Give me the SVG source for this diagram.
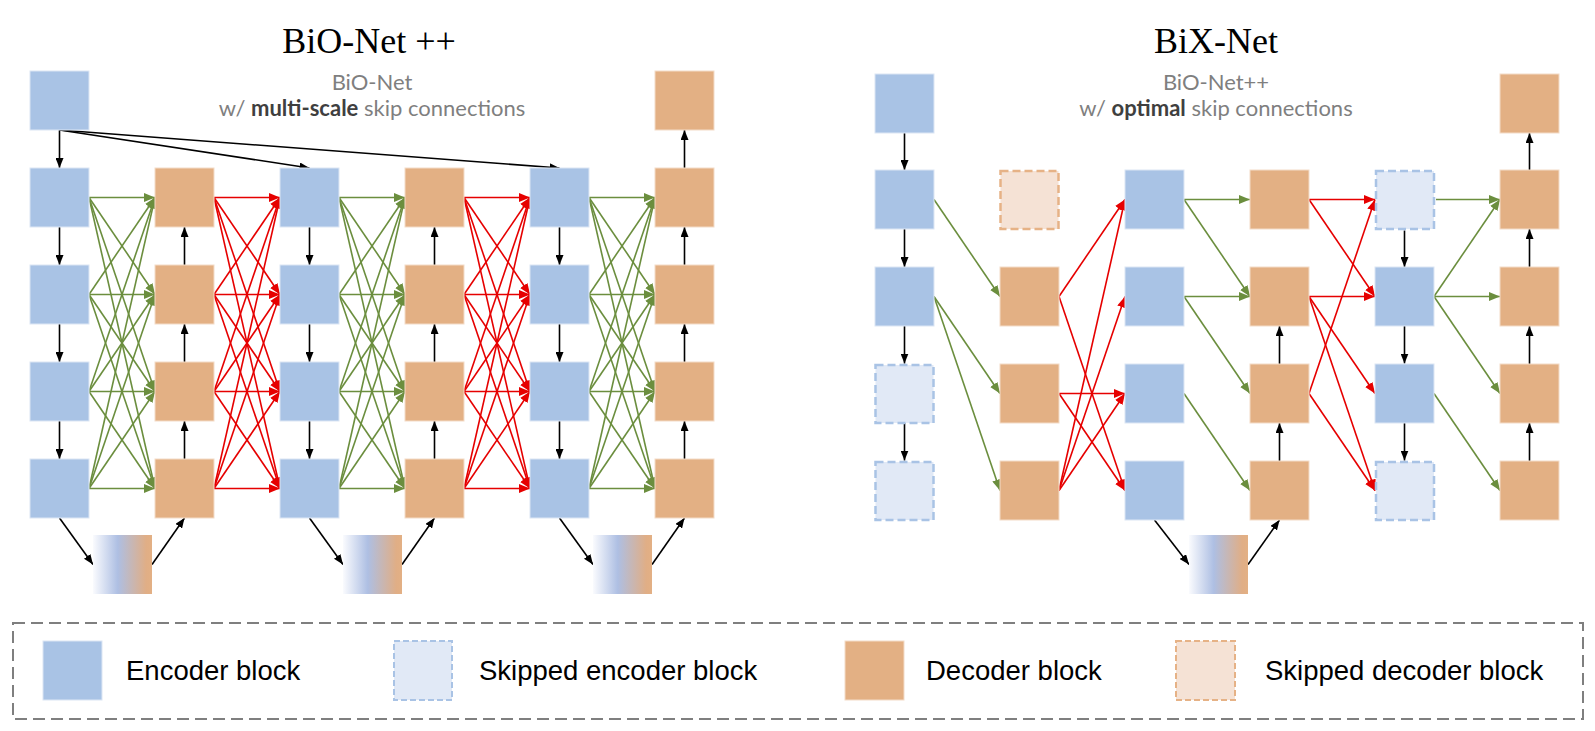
<svg xmlns="http://www.w3.org/2000/svg" width="1595" height="731" viewBox="0 0 1595 731">
<style>
.enc{fill:#A9C3E5;stroke:#DCE6F4;stroke-width:1}
.dec{fill:#E3B084;stroke:#F3DCC8;stroke-width:1}
.senc{fill:#E1E9F6;stroke:#A9C3E5;stroke-width:2.5;stroke-dasharray:8 4}
.sdec{fill:#F5E2D5;stroke:#E6B286;stroke-width:2.5;stroke-dasharray:8 4}
.grad{fill:url(#gr)}
.g line{stroke:#6B8E3E;stroke-width:1.6;marker-end:url(#ag)}
.r line{stroke:#E60000;stroke-width:1.6;marker-end:url(#ar)}
.k line{stroke:#000;stroke-width:1.6;marker-end:url(#ak)}
.title{font-family:"Liberation Serif",serif;font-size:36px;fill:#000;text-anchor:middle}
.sub{font-family:Lato,"Liberation Sans",sans-serif;font-size:22px;fill:#7F7F7F;text-anchor:middle}
.sub .b{font-weight:700;fill:#3F3F3F}
.leg{font-family:"Liberation Sans",sans-serif;font-size:27.5px;fill:#000}
</style>
<defs>
<marker id="ag" viewBox="0 0 10 8" refX="10" refY="4" markerWidth="11" markerHeight="9" markerUnits="userSpaceOnUse" orient="auto"><path d="M0,0 L10,4 L0,8 z" fill="#6B8E3E"/></marker>
<marker id="ar" viewBox="0 0 10 8" refX="10" refY="4" markerWidth="11" markerHeight="9" markerUnits="userSpaceOnUse" orient="auto"><path d="M0,0 L10,4 L0,8 z" fill="#E60000"/></marker>
<marker id="ak" viewBox="0 0 10 8" refX="10" refY="4" markerWidth="10" markerHeight="8" markerUnits="userSpaceOnUse" orient="auto"><path d="M0,0 L10,4 L0,8 z" fill="#000"/></marker>
<linearGradient id="gr" x1="0" y1="0" x2="1" y2="0">
<stop offset="0" stop-color="#FAFBFE"/>
<stop offset="0.42" stop-color="#AEBFE3"/>
<stop offset="0.9" stop-color="#E0AE86"/>
<stop offset="1" stop-color="#E3B084"/>
</linearGradient>
</defs>
<rect width="1595" height="731" fill="#fff"/>

<g id="titles">
<text class="title" x="369" y="53">BiO-Net ++</text>
<text class="sub" x="372" y="90">BiO-Net</text>
<text class="sub" x="372" y="116">w/ <tspan class="b">multi-scale</tspan> skip connections</text>
<text class="title" x="1216" y="53">BiX-Net</text>
<text class="sub" x="1216" y="90">BiO-Net++</text>
<text class="sub" x="1216" y="116">w/ <tspan class="b">optimal</tspan> skip connections</text>
</g>

<g id="connectors">
<g class="g">
<line x1="89" y1="197.5" x2="155" y2="197.5"/><line x1="89" y1="197.5" x2="155" y2="294.5"/><line x1="89" y1="197.5" x2="155" y2="391.5"/><line x1="89" y1="197.5" x2="155" y2="488.5"/>
<line x1="89" y1="294.5" x2="155" y2="197.5"/><line x1="89" y1="294.5" x2="155" y2="294.5"/><line x1="89" y1="294.5" x2="155" y2="391.5"/><line x1="89" y1="294.5" x2="155" y2="488.5"/>
<line x1="89" y1="391.5" x2="155" y2="197.5"/><line x1="89" y1="391.5" x2="155" y2="294.5"/><line x1="89" y1="391.5" x2="155" y2="391.5"/><line x1="89" y1="391.5" x2="155" y2="488.5"/>
<line x1="89" y1="488.5" x2="155" y2="197.5"/><line x1="89" y1="488.5" x2="155" y2="294.5"/><line x1="89" y1="488.5" x2="155" y2="391.5"/><line x1="89" y1="488.5" x2="155" y2="488.5"/>
<line x1="339" y1="197.5" x2="405" y2="197.5"/><line x1="339" y1="197.5" x2="405" y2="294.5"/><line x1="339" y1="197.5" x2="405" y2="391.5"/><line x1="339" y1="197.5" x2="405" y2="488.5"/>
<line x1="339" y1="294.5" x2="405" y2="197.5"/><line x1="339" y1="294.5" x2="405" y2="294.5"/><line x1="339" y1="294.5" x2="405" y2="391.5"/><line x1="339" y1="294.5" x2="405" y2="488.5"/>
<line x1="339" y1="391.5" x2="405" y2="197.5"/><line x1="339" y1="391.5" x2="405" y2="294.5"/><line x1="339" y1="391.5" x2="405" y2="391.5"/><line x1="339" y1="391.5" x2="405" y2="488.5"/>
<line x1="339" y1="488.5" x2="405" y2="197.5"/><line x1="339" y1="488.5" x2="405" y2="294.5"/><line x1="339" y1="488.5" x2="405" y2="391.5"/><line x1="339" y1="488.5" x2="405" y2="488.5"/>
<line x1="589" y1="197.5" x2="655" y2="197.5"/><line x1="589" y1="197.5" x2="655" y2="294.5"/><line x1="589" y1="197.5" x2="655" y2="391.5"/><line x1="589" y1="197.5" x2="655" y2="488.5"/>
<line x1="589" y1="294.5" x2="655" y2="197.5"/><line x1="589" y1="294.5" x2="655" y2="294.5"/><line x1="589" y1="294.5" x2="655" y2="391.5"/><line x1="589" y1="294.5" x2="655" y2="488.5"/>
<line x1="589" y1="391.5" x2="655" y2="197.5"/><line x1="589" y1="391.5" x2="655" y2="294.5"/><line x1="589" y1="391.5" x2="655" y2="391.5"/><line x1="589" y1="391.5" x2="655" y2="488.5"/>
<line x1="589" y1="488.5" x2="655" y2="197.5"/><line x1="589" y1="488.5" x2="655" y2="294.5"/><line x1="589" y1="488.5" x2="655" y2="391.5"/><line x1="589" y1="488.5" x2="655" y2="488.5"/>
<line x1="934" y1="199.5" x2="1000" y2="296.5"/>
<line x1="934" y1="296.5" x2="1000" y2="393.5"/>
<line x1="934" y1="296.5" x2="1000" y2="490.5"/>
<line x1="1184" y1="199.5" x2="1250" y2="199.5"/>
<line x1="1184" y1="199.5" x2="1250" y2="296.5"/>
<line x1="1184" y1="296.5" x2="1250" y2="296.5"/>
<line x1="1184" y1="296.5" x2="1250" y2="393.5"/>
<line x1="1184" y1="393.5" x2="1250" y2="490.5"/>
<line x1="1436" y1="199.5" x2="1500" y2="199.5"/>
<line x1="1434" y1="296.5" x2="1500" y2="199.5"/>
<line x1="1434" y1="296.5" x2="1500" y2="296.5"/>
<line x1="1434" y1="296.5" x2="1500" y2="393.5"/>
<line x1="1434" y1="393.5" x2="1500" y2="490.5"/>
</g>
<g class="r">
<line x1="214" y1="197.5" x2="280" y2="197.5"/><line x1="214" y1="197.5" x2="280" y2="294.5"/><line x1="214" y1="197.5" x2="280" y2="391.5"/><line x1="214" y1="197.5" x2="280" y2="488.5"/>
<line x1="214" y1="294.5" x2="280" y2="197.5"/><line x1="214" y1="294.5" x2="280" y2="294.5"/><line x1="214" y1="294.5" x2="280" y2="391.5"/><line x1="214" y1="294.5" x2="280" y2="488.5"/>
<line x1="214" y1="391.5" x2="280" y2="197.5"/><line x1="214" y1="391.5" x2="280" y2="294.5"/><line x1="214" y1="391.5" x2="280" y2="391.5"/><line x1="214" y1="391.5" x2="280" y2="488.5"/>
<line x1="214" y1="488.5" x2="280" y2="197.5"/><line x1="214" y1="488.5" x2="280" y2="294.5"/><line x1="214" y1="488.5" x2="280" y2="391.5"/><line x1="214" y1="488.5" x2="280" y2="488.5"/>
<line x1="464" y1="197.5" x2="530" y2="197.5"/><line x1="464" y1="197.5" x2="530" y2="294.5"/><line x1="464" y1="197.5" x2="530" y2="391.5"/><line x1="464" y1="197.5" x2="530" y2="488.5"/>
<line x1="464" y1="294.5" x2="530" y2="197.5"/><line x1="464" y1="294.5" x2="530" y2="294.5"/><line x1="464" y1="294.5" x2="530" y2="391.5"/><line x1="464" y1="294.5" x2="530" y2="488.5"/>
<line x1="464" y1="391.5" x2="530" y2="197.5"/><line x1="464" y1="391.5" x2="530" y2="294.5"/><line x1="464" y1="391.5" x2="530" y2="391.5"/><line x1="464" y1="391.5" x2="530" y2="488.5"/>
<line x1="464" y1="488.5" x2="530" y2="197.5"/><line x1="464" y1="488.5" x2="530" y2="294.5"/><line x1="464" y1="488.5" x2="530" y2="391.5"/><line x1="464" y1="488.5" x2="530" y2="488.5"/>
<line x1="1059" y1="296.5" x2="1125" y2="199.5"/>
<line x1="1059" y1="296.5" x2="1125" y2="490.5"/>
<line x1="1059" y1="393.5" x2="1125" y2="393.5"/>
<line x1="1059" y1="393.5" x2="1125" y2="490.5"/>
<line x1="1059" y1="490.5" x2="1125" y2="199.5"/>
<line x1="1059" y1="490.5" x2="1125" y2="296.5"/>
<line x1="1059" y1="490.5" x2="1125" y2="393.5"/>
<line x1="1309" y1="199.5" x2="1375" y2="199.5"/>
<line x1="1309" y1="199.5" x2="1375" y2="296.5"/>
<line x1="1309" y1="296.5" x2="1375" y2="296.5"/>
<line x1="1309" y1="296.5" x2="1375" y2="393.5"/>
<line x1="1309" y1="296.5" x2="1375" y2="490.5"/>
<line x1="1309" y1="393.5" x2="1375" y2="199.5"/>
<line x1="1309" y1="393.5" x2="1375" y2="490.5"/>
</g>
<g class="k">
<line x1="59.5" y1="130" x2="59.5" y2="168"/>
<line x1="59.5" y1="130" x2="309.5" y2="168"/>
<line x1="59.5" y1="130" x2="559.5" y2="168"/>
<line x1="59.5" y1="227" x2="59.5" y2="265"/><line x1="59.5" y1="324" x2="59.5" y2="362"/><line x1="59.5" y1="421" x2="59.5" y2="459"/>
<line x1="309.5" y1="227" x2="309.5" y2="265"/><line x1="309.5" y1="324" x2="309.5" y2="362"/><line x1="309.5" y1="421" x2="309.5" y2="459"/>
<line x1="559.5" y1="227" x2="559.5" y2="265"/><line x1="559.5" y1="324" x2="559.5" y2="362"/><line x1="559.5" y1="421" x2="559.5" y2="459"/>
<line x1="184.5" y1="265" x2="184.5" y2="227"/><line x1="184.5" y1="362" x2="184.5" y2="324"/><line x1="184.5" y1="459" x2="184.5" y2="421"/>
<line x1="434.5" y1="265" x2="434.5" y2="227"/><line x1="434.5" y1="362" x2="434.5" y2="324"/><line x1="434.5" y1="459" x2="434.5" y2="421"/>
<line x1="684.5" y1="265" x2="684.5" y2="227"/><line x1="684.5" y1="362" x2="684.5" y2="324"/><line x1="684.5" y1="459" x2="684.5" y2="421"/>
<line x1="684.5" y1="168" x2="684.5" y2="130"/>
<line x1="59.5" y1="518" x2="93" y2="564.5"/><line x1="152" y1="564.5" x2="184.5" y2="518"/>
<line x1="309.5" y1="518" x2="343" y2="564.5"/><line x1="402" y1="564.5" x2="434.5" y2="518"/>
<line x1="559.5" y1="518" x2="593" y2="564.5"/><line x1="652" y1="564.5" x2="684.5" y2="518"/>
<line x1="904.5" y1="133" x2="904.5" y2="170"/><line x1="904.5" y1="229" x2="904.5" y2="267"/><line x1="904.5" y1="326" x2="904.5" y2="363.5"/><line x1="904.5" y1="423" x2="904.5" y2="460.5"/>
<line x1="1154.5" y1="520" x2="1189" y2="564.5"/><line x1="1248" y1="564.5" x2="1279.5" y2="520"/>
<line x1="1279.5" y1="461" x2="1279.5" y2="423"/><line x1="1279.5" y1="364" x2="1279.5" y2="326"/>
<line x1="1404.5" y1="230.5" x2="1404.5" y2="267"/><line x1="1404.5" y1="326" x2="1404.5" y2="363.5"/><line x1="1404.5" y1="423" x2="1404.5" y2="460.5"/>
<line x1="1529.5" y1="461" x2="1529.5" y2="423"/><line x1="1529.5" y1="364" x2="1529.5" y2="326"/><line x1="1529.5" y1="267" x2="1529.5" y2="229"/><line x1="1529.5" y1="170" x2="1529.5" y2="133"/>
</g>
</g>

<g id="bio-net-pp">
<g id="L-in"><rect class="enc" x="30" y="71" width="59" height="59"/></g>
<g id="L-out"><rect class="dec" x="655" y="71" width="59" height="59"/></g>
<g id="L-e1-1"><rect class="enc" x="30" y="168" width="59" height="59"/></g>
<g id="L-e1-2"><rect class="enc" x="30" y="265" width="59" height="59"/></g>
<g id="L-e1-3"><rect class="enc" x="30" y="362" width="59" height="59"/></g>
<g id="L-e1-4"><rect class="enc" x="30" y="459" width="59" height="59"/></g>
<g id="L-d1-1"><rect class="dec" x="155" y="168" width="59" height="59"/></g>
<g id="L-d1-2"><rect class="dec" x="155" y="265" width="59" height="59"/></g>
<g id="L-d1-3"><rect class="dec" x="155" y="362" width="59" height="59"/></g>
<g id="L-d1-4"><rect class="dec" x="155" y="459" width="59" height="59"/></g>
<g id="L-e2-1"><rect class="enc" x="280" y="168" width="59" height="59"/></g>
<g id="L-e2-2"><rect class="enc" x="280" y="265" width="59" height="59"/></g>
<g id="L-e2-3"><rect class="enc" x="280" y="362" width="59" height="59"/></g>
<g id="L-e2-4"><rect class="enc" x="280" y="459" width="59" height="59"/></g>
<g id="L-d2-1"><rect class="dec" x="405" y="168" width="59" height="59"/></g>
<g id="L-d2-2"><rect class="dec" x="405" y="265" width="59" height="59"/></g>
<g id="L-d2-3"><rect class="dec" x="405" y="362" width="59" height="59"/></g>
<g id="L-d2-4"><rect class="dec" x="405" y="459" width="59" height="59"/></g>
<g id="L-e3-1"><rect class="enc" x="530" y="168" width="59" height="59"/></g>
<g id="L-e3-2"><rect class="enc" x="530" y="265" width="59" height="59"/></g>
<g id="L-e3-3"><rect class="enc" x="530" y="362" width="59" height="59"/></g>
<g id="L-e3-4"><rect class="enc" x="530" y="459" width="59" height="59"/></g>
<g id="L-d3-1"><rect class="dec" x="655" y="168" width="59" height="59"/></g>
<g id="L-d3-2"><rect class="dec" x="655" y="265" width="59" height="59"/></g>
<g id="L-d3-3"><rect class="dec" x="655" y="362" width="59" height="59"/></g>
<g id="L-d3-4"><rect class="dec" x="655" y="459" width="59" height="59"/></g>
<g id="L-b1"><rect class="grad" x="93" y="535" width="59" height="59"/></g>
<g id="L-b2"><rect class="grad" x="343" y="535" width="59" height="59"/></g>
<g id="L-b3"><rect class="grad" x="593" y="535" width="59" height="59"/></g>
</g>

<g id="bix-net">
<g id="R-in"><rect class="enc" x="875" y="74" width="59" height="59"/></g>
<g id="R-out"><rect class="dec" x="1500" y="74" width="59" height="59"/></g>
<g id="R-e1-1"><rect class="enc" x="875" y="170" width="59" height="59"/></g>
<g id="R-e1-2"><rect class="enc" x="875" y="267" width="59" height="59"/></g>
<g id="R-e1-3"><rect class="senc" x="875.5" y="365" width="58" height="58"/></g>
<g id="R-e1-4"><rect class="senc" x="875.5" y="462" width="58" height="58"/></g>
<g id="R-d1-1"><rect class="sdec" x="1000.5" y="171" width="58" height="58"/></g>
<g id="R-d1-2"><rect class="dec" x="1000" y="267" width="59" height="59"/></g>
<g id="R-d1-3"><rect class="dec" x="1000" y="364" width="59" height="59"/></g>
<g id="R-d1-4"><rect class="dec" x="1000" y="461" width="59" height="59"/></g>
<g id="R-e2-1"><rect class="enc" x="1125" y="170" width="59" height="59"/></g>
<g id="R-e2-2"><rect class="enc" x="1125" y="267" width="59" height="59"/></g>
<g id="R-e2-3"><rect class="enc" x="1125" y="364" width="59" height="59"/></g>
<g id="R-e2-4"><rect class="enc" x="1125" y="461" width="59" height="59"/></g>
<g id="R-d2-1"><rect class="dec" x="1250" y="170" width="59" height="59"/></g>
<g id="R-d2-2"><rect class="dec" x="1250" y="267" width="59" height="59"/></g>
<g id="R-d2-3"><rect class="dec" x="1250" y="364" width="59" height="59"/></g>
<g id="R-d2-4"><rect class="dec" x="1250" y="461" width="59" height="59"/></g>
<g id="R-e3-1"><rect class="senc" x="1376" y="171" width="58" height="58"/></g>
<g id="R-e3-2"><rect class="enc" x="1375" y="267" width="59" height="59"/></g>
<g id="R-e3-3"><rect class="enc" x="1375" y="364" width="59" height="59"/></g>
<g id="R-e3-4"><rect class="senc" x="1376" y="462" width="58" height="58"/></g>
<g id="R-d3-1"><rect class="dec" x="1500" y="170" width="59" height="59"/></g>
<g id="R-d3-2"><rect class="dec" x="1500" y="267" width="59" height="59"/></g>
<g id="R-d3-3"><rect class="dec" x="1500" y="364" width="59" height="59"/></g>
<g id="R-d3-4"><rect class="dec" x="1500" y="461" width="59" height="59"/></g>
<g id="R-b1"><rect class="grad" x="1189" y="535" width="59" height="59"/></g>
</g>

<g id="legend">
<rect x="13" y="623" width="1570" height="96" fill="none" stroke="#7F7F7F" stroke-width="2" stroke-dasharray="12 6"/>
<g id="leg-enc"><rect class="enc" x="43" y="641" width="59" height="59"/><text class="leg" x="126" y="680">Encoder block</text></g>
<g id="leg-senc"><rect fill="#E1E9F6" stroke="#A9C3E5" stroke-width="2" stroke-dasharray="6 3" x="394" y="641" width="58" height="59"/><text class="leg" x="479" y="680">Skipped encoder block</text></g>
<g id="leg-dec"><rect class="dec" x="845" y="641" width="59" height="59"/><text class="leg" x="926" y="680">Decoder block</text></g>
<g id="leg-sdec"><rect fill="#F5E2D5" stroke="#E6B286" stroke-width="2" stroke-dasharray="6 3" x="1176" y="641" width="59" height="59"/><text class="leg" x="1265" y="680">Skipped decoder block</text></g>
</g>
</svg>
